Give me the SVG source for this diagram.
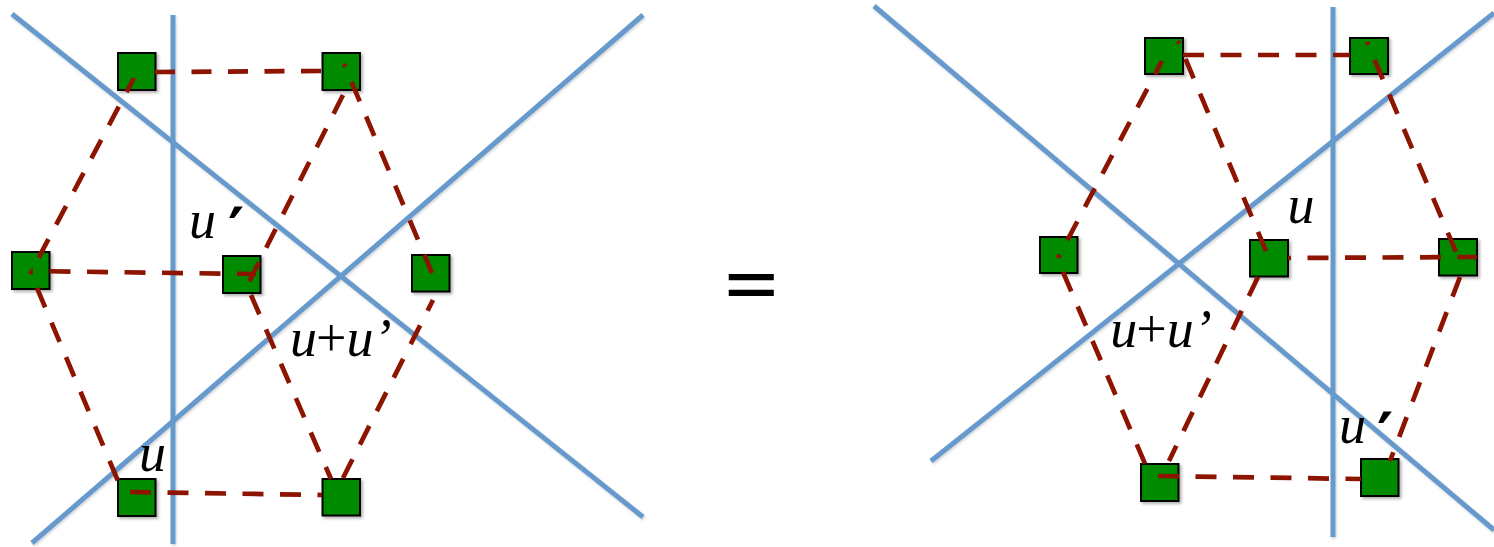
<svg xmlns="http://www.w3.org/2000/svg" width="1494" height="547" viewBox="0 0 1494 547">
<defs>
<filter id="sh" x="-20%" y="-20%" width="150%" height="150%">
<feDropShadow dx="2" dy="2" stdDeviation="1.5" flood-color="#000" flood-opacity="0.3"/>
</filter>
<filter id="lsh" x="-5%" y="-5%" width="110%" height="110%">
<feDropShadow dx="1" dy="1.5" stdDeviation="1" flood-color="#000" flood-opacity="0.18"/>
</filter>
</defs>
<style>
.ax{stroke:#6699CC;stroke-width:5;fill:none;stroke-linecap:butt}
.nd{fill:#008A00;stroke:#000;stroke-width:2}
.ed{stroke:#8C1400;stroke-width:4.7;fill:none;stroke-dasharray:21 16.5;stroke-linecap:butt}
.lb{font-family:"Liberation Serif",serif;font-style:italic;font-size:54px;fill:#000}
.pl{font-size:54px;font-style:normal}
.pr{font-family:"DejaVu Sans",sans-serif;font-style:normal;font-weight:bold;font-size:62px}
.eq{font-family:"Liberation Sans",Arial,sans-serif;font-weight:bold;font-size:58px;fill:#000}
</style>
<rect width="1494" height="547" fill="#fff"/>
<g id="axes" filter="url(#lsh)">
<line class="ax" x1="12" y1="14" x2="643" y2="517"/>
<line class="ax" x1="173" y1="15" x2="173" y2="544"/>
<line class="ax" x1="32" y1="543" x2="643" y2="15"/>
<line class="ax" x1="874" y1="6" x2="1494" y2="530"/>
<line class="ax" x1="1333" y1="7" x2="1333" y2="537"/>
<line class="ax" x1="931" y1="461" x2="1494" y2="13"/>
</g>
<g id="nodes-left" filter="url(#sh)">
<g id="L-TL"><rect class="nd" x="118" y="53" width="37.5" height="37"/></g>
<g id="L-TR"><rect class="nd" x="322.5" y="53" width="37.5" height="37"/></g>
<g id="L-LM"><rect class="nd" x="12" y="252" width="37.5" height="37"/></g>
<g id="L-M"><rect class="nd" x="223" y="256" width="37.5" height="37"/></g>
<g id="L-RM"><rect class="nd" x="412" y="255" width="37.5" height="36.5"/></g>
<g id="L-BL"><rect class="nd" x="118" y="479" width="37.5" height="37"/></g>
<g id="L-BR"><rect class="nd" x="322.5" y="479" width="37.5" height="36.5"/></g>
</g>
<g id="nodes-right" filter="url(#sh)">
<g id="R-TL"><rect class="nd" x="1145" y="38" width="38" height="36"/></g>
<g id="R-TR"><rect class="nd" x="1350" y="38" width="38" height="36"/></g>
<g id="R-LM"><rect class="nd" x="1040" y="237" width="37.5" height="36"/></g>
<g id="R-M"><rect class="nd" x="1250" y="240" width="38" height="36.5"/></g>
<g id="R-RM"><rect class="nd" x="1439" y="239" width="38" height="36.5"/></g>
<g id="R-BL"><rect class="nd" x="1141" y="464" width="37.5" height="37"/></g>
<g id="R-BR"><rect class="nd" x="1361" y="459" width="37.5" height="37"/></g>
</g>
<g id="connectors">
<path class="ed" d="M155,72 L322,71" style="stroke-dasharray:20 16.5"/>
<path class="ed" d="M134,78 L30,274" stroke-dashoffset="5"/>
<path class="ed" d="M30,271 L256,274" stroke-dashoffset="18"/>
<path class="ed" d="M343,95 L247,286"/>
<path class="ed" d="M344,64 L432,273" stroke-dashoffset="18"/>
<path class="ed" d="M37,288 L118,481"/>
<path class="ed" d="M251,295 L331,479"/>
<path class="ed" d="M433,300 L343,478" stroke-dashoffset="9"/>
<path class="ed" d="M130,492 L322,495"/>
<path class="ed" d="M1183,55 L1350,55"/>
<path class="ed" d="M1162,61 L1058,258" stroke-dashoffset="6"/>
<path class="ed" d="M1178,41 L1266,251" stroke-dashoffset="18"/>
<path class="ed" d="M1367,42 L1456,252" stroke-dashoffset="18"/>
<path class="ed" d="M1063,272 L1146,466"/>
<path class="ed" d="M1258,277 L1169,461"/>
<path class="ed" d="M1288,258 L1477,257" stroke-dashoffset="18"/>
<path class="ed" d="M1460,277 L1390,461"/>
<path class="ed" d="M1158,476 L1361,479"/>
</g>
<g id="labels">
<text class="lb" y="238"><tspan x="189">u</tspan><tspan class="pr" x="228" y="252">′</tspan></text>
<text class="lb" x="139" y="471">u</text>
<text class="lb" y="356"><tspan x="290">u</tspan><tspan class="pl" x="316" y="356">+</tspan><tspan x="346.5" y="356">u</tspan><tspan x="373.5">’</tspan></text>
<text class="lb" x="1287.5" y="223">u</text>
<text class="lb" y="347"><tspan x="1110.3">u</tspan><tspan class="pl" x="1136.3" y="347">+</tspan><tspan x="1166.8" y="347">u</tspan><tspan x="1193.8">’</tspan></text>
<text class="lb" y="443"><tspan x="1339">u</tspan><tspan class="pr" x="1377" y="457">′</tspan></text>
<text class="eq" x="725" y="303.5" textLength="52.5" lengthAdjust="spacingAndGlyphs">=</text>
</g>
</svg>
